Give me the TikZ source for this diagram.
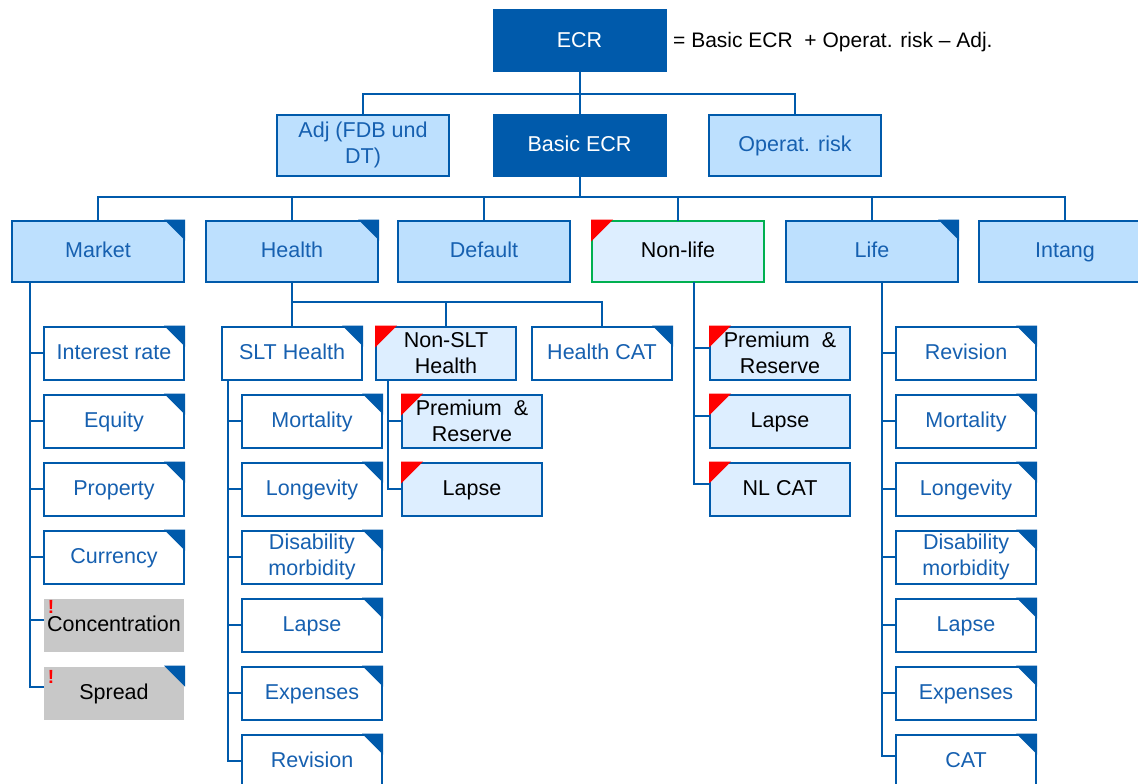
\documentclass[tikz,border=0pt]{standalone}
\usepackage{fontspec}
\setmainfont{Liberation Sans}
\usetikzlibrary{calc}
\definecolor{dkb}{HTML}{005AAB}
\definecolor{lbf}{HTML}{BDE0FE}
\definecolor{vlb}{HTML}{DDEEFF}
\definecolor{txb}{HTML}{1660B0}
\definecolor{grn}{HTML}{00B050}
\definecolor{gry}{HTML}{C8C8C8}
\begin{document}
\begin{tikzpicture}[x=1pt,y=-1pt,
  base/.style={draw=dkb, line width=2pt, inner sep=0pt, outer sep=0pt, align=center,
    font=\fontsize{21.5}{25.5}\selectfont, text height=16.7pt, text depth=3.3pt},
  two/.style={text height={}, text depth={}},
  topbox/.style={base, minimum width=172pt, minimum height=61pt},
  subbox/.style={base, minimum width=140pt, minimum height=53pt},
  dark/.style={fill=dkb, text=white},
  light/.style={fill=lbf, text=txb},
  pale/.style={fill=vlb, text=black},
  wbox/.style={fill=white, text=txb},
  gbox/.style={subbox, draw=none, fill=gry, text=black, text height=14.5pt, text depth=1.1pt},
  conn/.style={draw=dkb, line width=2pt},
  warn/.style={text=red, font=\fontsize{19}{23}\selectfont\bfseries, inner sep=0pt}
]
\useasboundingbox (0,0) rectangle (1138,784);
\fill[white] (0,0) rectangle (1138,784);

% level 0
\node[topbox, dark] (ecr) at (579.5,41) {ECR};
\node[anchor=west, inner sep=0pt, font=\fontsize{21}{25}\selectfont] (formula) at (673,42) {= Basic ECR \ + Operat. risk -- Adj.};

% level 1
\node[topbox, light, two] (adj) at (363,145) {Adj (FDB und\\DT)};
\node[topbox, dark] (basic) at (579.5,145) {Basic ECR};
\node[topbox, light] (op) at (795,145) {Operat. risk};

% level 2
\node[topbox, light] (market) at (98,251) {Market};
\node[topbox, light] (health) at (292,251) {Health};
\node[topbox, light] (default) at (484,251) {Default};
\node[topbox, pale, draw=grn] (nonlife) at (678,251) {Non-life};
\node[topbox, light] (life) at (872,251) {Life};
\node[topbox, light] (intang) at (1065,251) {Intang};

% market children
\node[subbox, wbox] (mir) at (114,353) {Interest rate};
\node[subbox, wbox] (meq) at (114,421) {Equity};
\node[subbox, wbox] (mpr) at (114,489) {Property};
\node[subbox, wbox] (mcu) at (114,557) {Currency};
\node[gbox] (mco) at (114,625) {Concentration};
\node[gbox] (msp) at (114,693) {Spread};
\node[warn] (w1) at ($(mco.north west)+(7,8)$) {!};
\node[warn] (w2) at ($(msp.north west)+(7,10)$) {!};

% health children
\node[subbox, wbox] (slt) at (292,353) {SLT Health};
\node[subbox, pale, two] (nslt) at (446,353) {Non-SLT\\Health};
\node[subbox, wbox] (hcat) at (602,353) {Health CAT};

\node[subbox, wbox] (smo) at (312,421) {Mortality};
\node[subbox, wbox] (slo) at (312,489) {Longevity};
\node[subbox, wbox, two] (sdi) at (312,557) {Disability\\morbidity};
\node[subbox, wbox] (sla) at (312,625) {Lapse};
\node[subbox, wbox] (sex) at (312,693) {Expenses};
\node[subbox, wbox] (sre) at (312,761) {Revision};

\node[subbox, pale, two] (npr) at (472,421) {Premium \ \&\\Reserve};
\node[subbox, pale] (nla) at (472,489) {Lapse};

% non-life children
\node[subbox, pale, two] (lpr) at (780,353) {Premium \ \&\\Reserve};
\node[subbox, pale] (lla) at (780,421) {Lapse};
\node[subbox, pale] (lca) at (780,489) {NL CAT};

% life children
\node[subbox, wbox] (fre) at (966,353) {Revision};
\node[subbox, wbox] (fmo) at (966,421) {Mortality};
\node[subbox, wbox] (flo) at (966,489) {Longevity};
\node[subbox, wbox, two] (fdi) at (966,557) {Disability\\morbidity};
\node[subbox, wbox] (fla) at (966,625) {Lapse};
\node[subbox, wbox] (fex) at (966,693) {Expenses};
\node[subbox, wbox] (fca) at (966,761) {CAT};

% corner marks
\foreach \n in {market,health,life,mir,meq,mpr,mcu,msp,slt,hcat,smo,slo,sdi,sla,sex,sre,fre,fmo,flo,fdi,fla,fex,fca}
  \fill[dkb] ([xshift=1pt,yshift=1pt]\n.north east) -- ++(-21,0) -- ++(21,21) -- cycle;
\foreach \n in {nonlife,nslt,npr,nla,lpr,lla,lca}
  \fill[red] ([xshift=-1pt,yshift=1pt]\n.north west) -- ++(22,0) -- ++(-22,22) -- cycle;

% connectors level 0-1
\coordinate (j1) at (579.5,94);
\draw[conn] (ecr.south) -- (basic.north);
\draw[conn] (adj.north) |- (j1) -| (op.north);

% level 1-2
\coordinate (j2) at (579.5,197);
\draw[conn] (basic.south) -- (j2);
\draw[conn] (market.north) |- (j2) -| (intang.north);
\foreach \n in {health,default,nonlife,life}
  \draw[conn] (\n.north) -- (\n.north |- j2);

% health
\coordinate (j3) at (292,302);
\draw[conn] (health.south) -- (slt.north);
\draw[conn] (j3) -| (hcat.north);
\draw[conn] (nslt.north) -- (nslt.north |- j3);

% market column
\coordinate (mv) at ($(market.south west)+(18,0)$);
\draw[conn] (mv) |- ([yshift=6pt]msp.west);
\draw[conn] ([yshift=5pt]mco.west) -- ([yshift=5pt]mco.west -| mv);
\foreach \n in {mir,meq,mpr,mcu}
  \draw[conn] (\n.west) -- (\n.west -| mv);

% SLT column
\coordinate (sv) at ($(slt.south west)+(6,0)$);
\draw[conn] (sv) |- (sre.west);
\foreach \n in {smo,slo,sdi,sla,sex}
  \draw[conn] (\n.west) -- (\n.west -| sv);

% Non-SLT column
\coordinate (nv) at ($(nslt.south west)+(12,0)$);
\draw[conn] (nv) |- (nla.west);
\draw[conn] (npr.west) -- (npr.west -| nv);

% Non-life column
\coordinate (lv) at ($(nonlife.south west)+(102,0)$);
\draw[conn] (lv) |- ([yshift=5pt]lca.west);
\foreach \n in {lpr,lla}
  \draw[conn] ([yshift=5pt]\n.west) -- ([yshift=5pt]\n.west -| lv);

% Life column
\coordinate (fv) at ($(life.south west)+(96,0)$);
\draw[conn] (fv) |- ([yshift=5pt]fca.west);
\foreach \n in {fre,fmo,flo,fdi,fla,fex}
  \draw[conn] (\n.west) -- (\n.west -| fv);
\end{tikzpicture}
\end{document}
